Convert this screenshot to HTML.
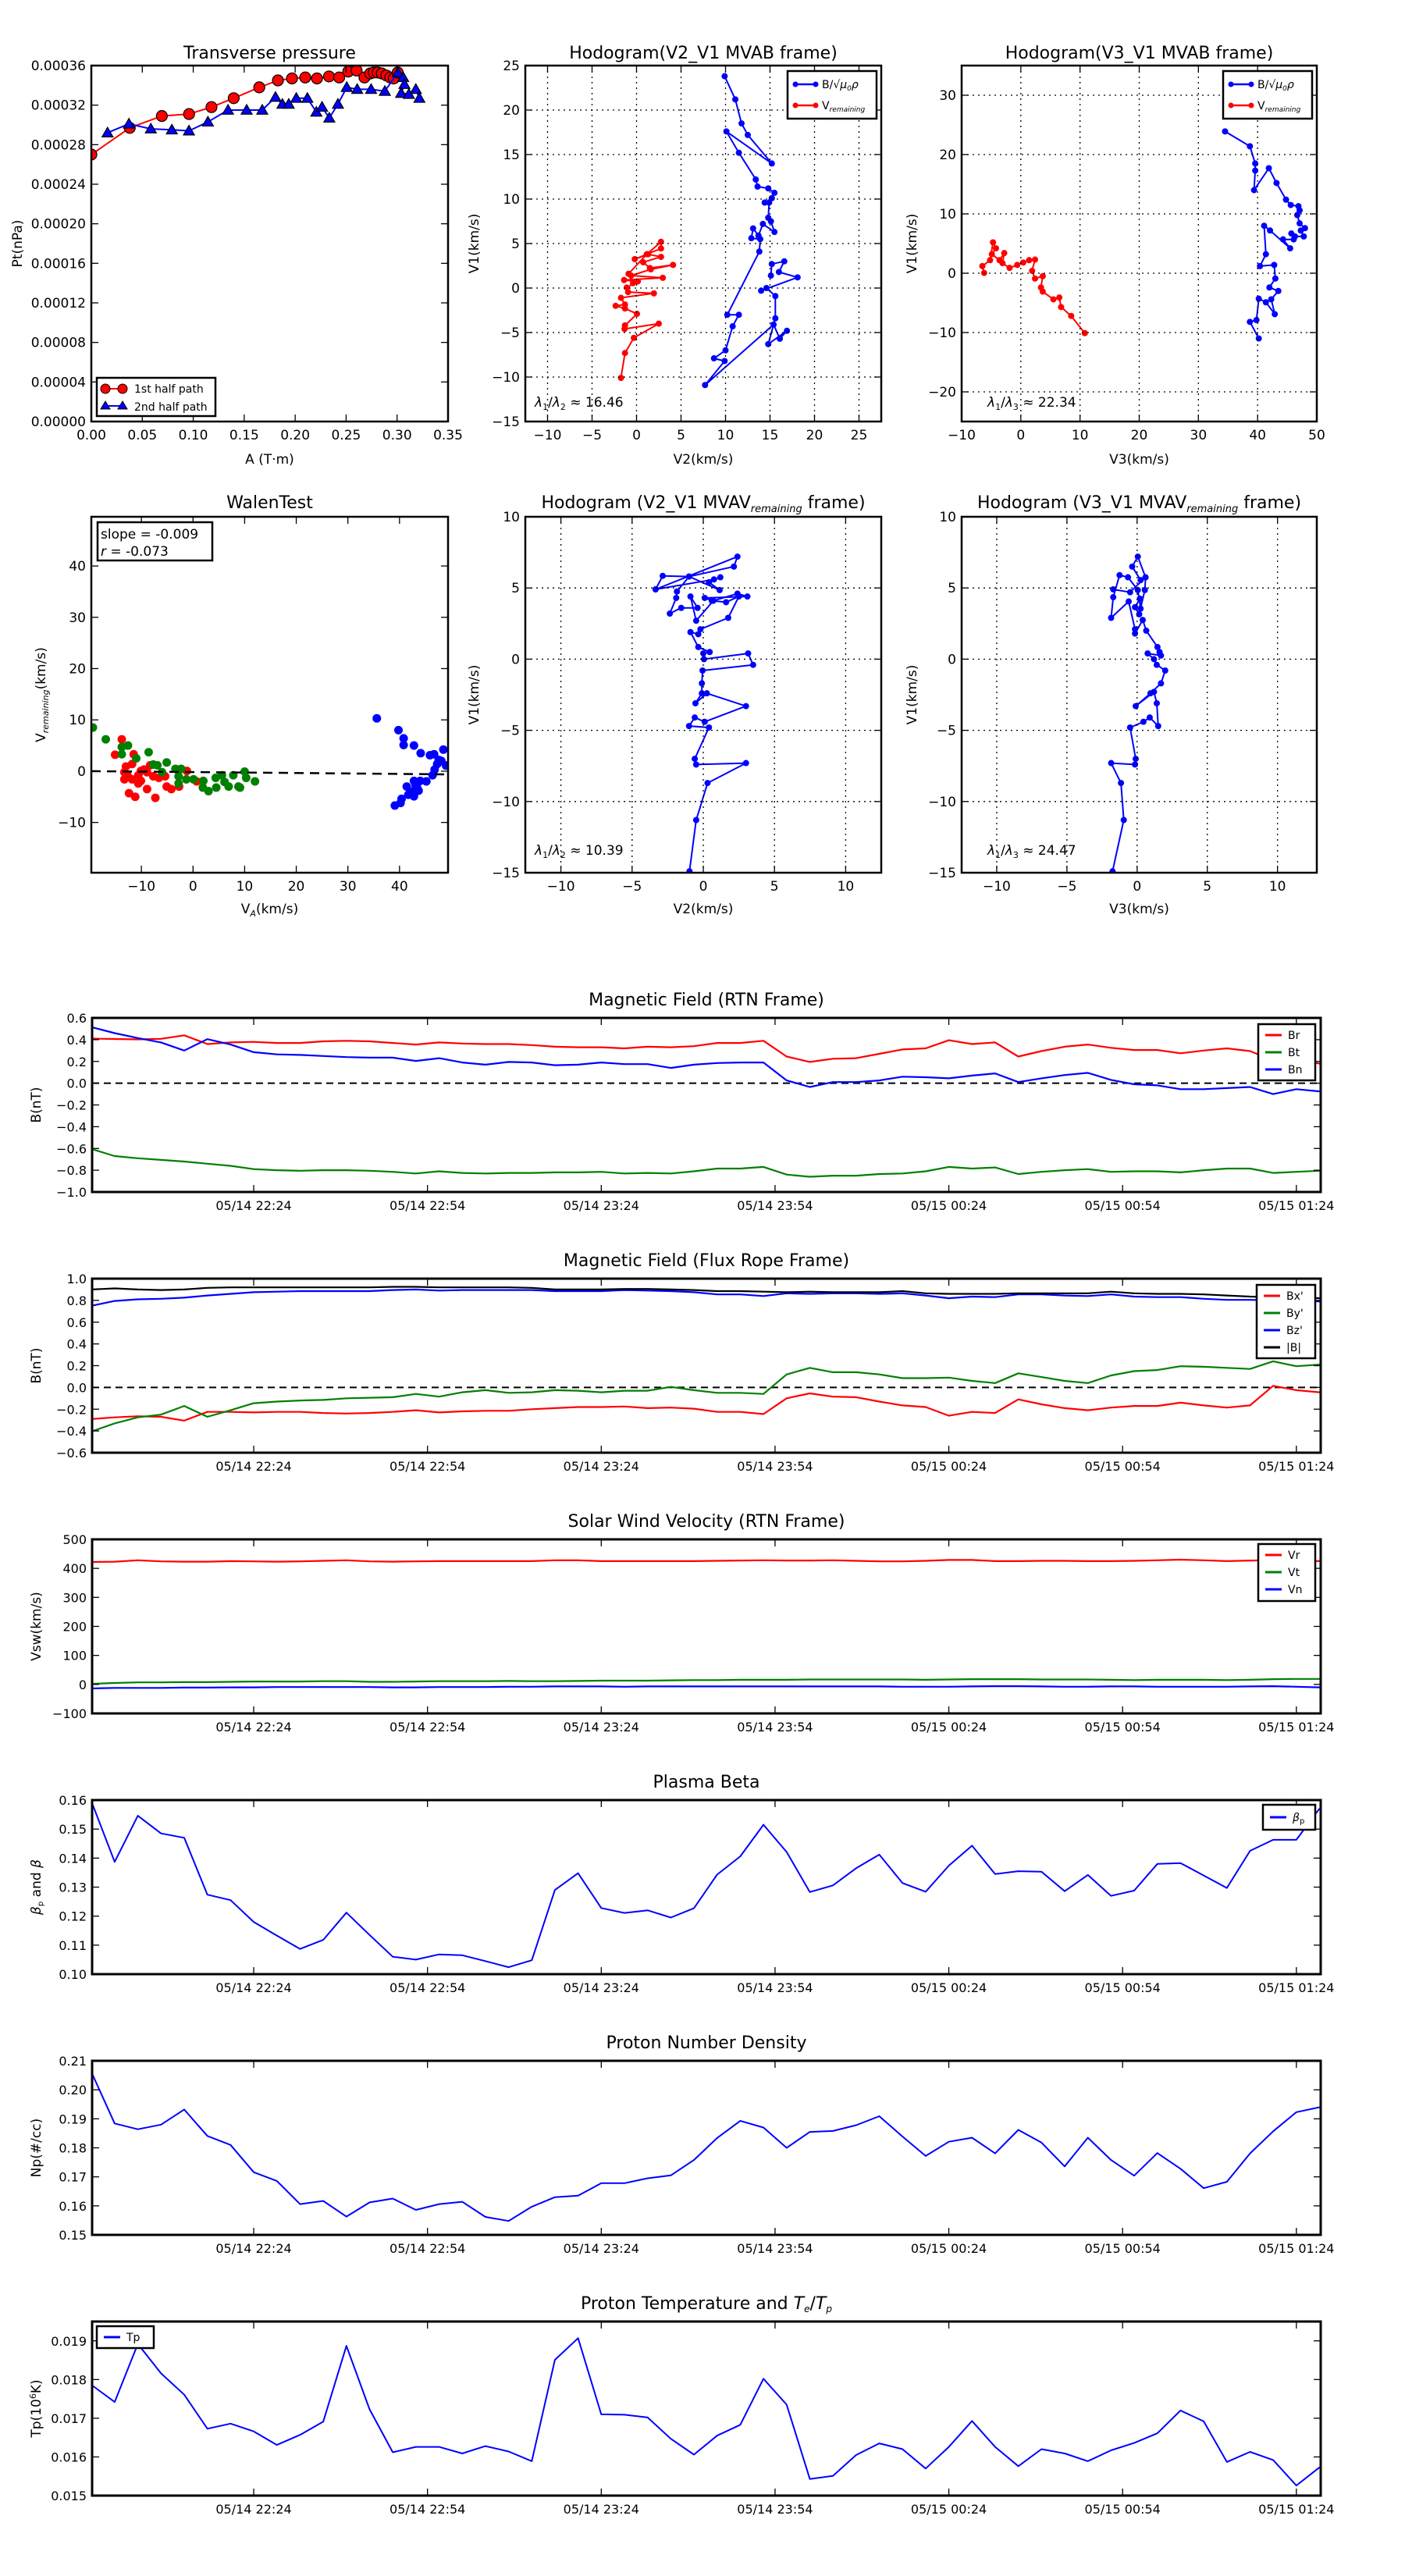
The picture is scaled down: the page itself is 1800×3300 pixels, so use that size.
<!DOCTYPE html>
<html><head><meta charset="utf-8">
<style>body{margin:0;background:#fff}svg{display:block}text{font-family:"DejaVu Sans","Liberation Sans",sans-serif}</style>
</head><body>
<svg id="fig" xmlns="http://www.w3.org/2000/svg" width="1800" height="3300" viewBox="0 0 1800 3300"><rect x="0" y="0" width="1800" height="3300" fill="#fff"/><defs id="defs"></defs></svg>
<script>
// ---------- Transverse pressure ----------
const ptA1=[0,.0377,.0692,.0959,.1179,.1397,.1648,.1831,.1969,.2099,.2214,.2332,.2432,.2521,.2603,.268,.2736,.2771,.2809,.285,.2894,.2933,.2968,.3006];
const ptP1=[.000270,.000297,.000309,.000311,.000318,.000327,.000338,.000345,.000347,.000348,.000347,.000349,.000348,.000354,.000355,.000348,.000352,.000353,.000353,.000352,.00035,.000348,.000347,.000353];
const ptA2=[.0159,.0369,.0584,.079,.0958,.1144,.1341,.1524,.1677,.1807,.1875,.1937,.2011,.212,.2208,.2264,.2335,.242,.2506,.2609,.2745,.288,.3007,.306,.3072,.304,.3116,.3184,.3219];
const ptP2=[.000292,.000301,.000296,.000295,.000294,.000303,.000315,.000315,.000315,.000328,.000321,.000321,.000327,.000327,.000313,.000318,.000307,.000321,.000338,.000336,.000336,.000334,.000353,.000348,.000341,.000332,.000331,.000336,.000327];
// ---------- Hodogram V2_V1 MVAB ----------
const h1BV2=[9.9,11.1,11.8,12.5,15.2,10.1,11.5,13.4,13.6,14.8,15.5,15.2,14.4,14.9,14.8,15.1,15.5,14.2,13.7,13.1,12.9,13.9,13.8,10.2,11.5,10.8,10.0,8.7,9.9,7.7,15.4,16.1,16.9,14.8,15.6,15.6,14.6,14.0,18.1,16.0,16.6,15.2,15.1];
const h1BV1=[23.8,21.2,18.5,17.2,14.0,17.6,15.2,12.2,11.4,11.2,10.7,10.1,9.6,9.6,7.9,7.5,6.3,7.2,5.9,6.7,5.6,5.5,4.1,-3.0,-3.0,-4.3,-7.0,-7.9,-8.2,-10.9,-4.1,-5.7,-4.8,-6.3,-3.4,-0.9,0.0,-0.3,1.2,1.8,3.0,2.7,1.4];
const h1VV2=[-1.75,-1.3,-0.3,2.5,-1.35,-1.3,0.05,-1.3,-2.35,-1.3,-1.75,1.95,-0.95,-1.1,0.15,-1.4,2.95,-0.6,1.6,4.1,1.5,0.75,2.75,1.3,-0.2,2.75,2.75,1.15,-0.9,-0.4];
const h1VV1=[-10.1,-7.3,-5.6,-4.0,-4.6,-4.2,-2.9,-2.3,-2.0,-1.85,-1.1,-0.6,-0.45,0.05,0.75,0.9,1.15,1.4,2.1,2.6,2.25,2.9,3.5,3.8,3.25,4.45,5.2,3.8,1.6,0.55];
// ---------- Hodogram V3_V1 MVAB ----------
const h2BV3=[34.5,38.7,39.6,39.6,39.4,41.9,43.2,44.8,45.6,46.9,47.1,46.7,47.1,48.0,47.3,47.8,46.3,45.7,46.1,44.3,45.5,42.1,41.1,41.4,40.4,42.8,43.0,42.0,43.5,42.3,42.9,41.4,40.2,39.8,38.7,40.2];
const h2BV1=[23.9,21.4,18.5,17.3,14.0,17.7,15.2,12.4,11.5,11.3,10.6,9.8,8.4,7.6,7.2,6.2,6.2,6.7,5.7,5.7,4.2,7.2,8.0,3.2,1.2,1.4,-0.9,-2.4,-3.0,-4.4,-6.9,-4.9,-4.3,-7.9,-8.2,-11.0];
const h2VV3=[-6.2,-6.5,-5.2,-4.7,-4.2,-4.9,-3.6,-2.8,-3.1,-1.9,-0.6,0.4,1.4,2.4,1.9,2.4,3.7,3.4,3.7,5.5,6.5,6.8,8.5,10.8];
const h2VV1=[0.05,1.2,2.2,5.2,4.2,3.2,2.2,3.4,1.7,0.9,1.4,1.8,2.2,2.3,0.4,-0.9,-0.5,-2.4,-3.1,-4.4,-4.1,-5.7,-7.2,-10.1];
// ---------- Walen test ----------
const wRx=[-13.8,-15.1,-13.3,-13.3,-12.4,-11.2,-7.3,-8.9,-10.1,-6.6,-5.1,-4.2,-2.7,-1.2,0.7,-8.3,-11.8,-10.6,-9.5,-13.0,-11.5,-8.9,-7.7,-5.4,-11.8,-10.6,-12.7,-10.1];
const wRy=[6.2,3.2,-0.2,-1.6,-4.3,-5.0,-5.2,-3.5,-1.9,-1.3,-3.0,-3.5,-3.0,0.05,-2.0,1.15,1.4,-0.8,0.3,0.9,3.3,-0.2,-1.0,-1.0,-1.6,-2.4,-0.8,0.05];
const wGx=[-19.4,-16.9,-13.8,-12.6,-13.8,-11.0,-8.6,-7.7,-6.9,-5.1,-6.0,-3.4,-2.3,-2.8,-2.8,-1.3,0.1,2.0,1.9,3.0,4.5,4.4,5.6,6.1,6.9,7.8,8.8,10.0,10.3,12.0,9.1];
const wGy=[8.5,6.2,4.7,5.0,3.3,2.5,3.7,1.3,1.15,1.7,-0.2,0.45,0.45,-1.0,-2.4,-1.6,-1.6,-1.9,-3.2,-3.9,-3.2,-1.3,-0.8,-2.1,-3.0,-0.8,-3.0,-0.1,-1.3,-2.0,-3.2];
const wBx=[35.6,39.8,40.8,40.8,42.8,44.1,45.9,46.7,48.5,47.6,46.8,46.4,45.2,44.0,42.8,41.4,43.1,43.7,42.3,41.7,40.4,40.2,39.1,42.8,43.4,48.1,49.0,47.3];
const wBy=[10.3,8.0,6.4,5.1,5.0,3.5,3.1,3.3,4.2,2.2,0.3,-0.8,-2.0,-1.9,-1.9,-3.0,-2.7,-3.8,-4.0,-4.6,-5.4,-6.2,-6.7,-4.9,-3.2,2.0,1.1,1.4];
const wSlope=-0.009, wIntercept=-0.18;
// ---------- Hodograms MVAV ----------
const h3V2=[-0.97,-0.5,0.3,3.0,-0.5,-0.6,0.4,-1.0,-0.6,0.1,3.0,0.25,-0.55,-0.1,-0.1,-0.05,3.5,3.15,0.05,0.0,0.45,-0.35,-0.9,-0.35,-0.2,1.75,2.5,1.6,0.6,0.1,3.1,2.4,0.7,-0.5,-0.9,-0.4,-1.55,-2.35,-1.9,-1.85,-1.0,1.15,0.4,1.2,0.75,-3.35,2.4,2.15,-1.0,-2.85,-3.35];
const h3V1=[-14.9,-11.3,-8.7,-7.3,-7.4,-7.0,-4.8,-4.7,-4.1,-4.4,-3.3,-2.4,-3.1,-2.4,-1.7,-0.8,-0.4,0.4,0.0,0.4,0.5,0.85,1.9,1.75,2.1,2.9,4.4,4.0,4.1,4.3,4.4,4.6,4.1,2.7,4.4,3.6,3.6,3.2,4.3,4.75,5.8,4.85,5.4,5.75,5.6,4.9,7.2,6.5,5.8,5.85,4.9];
const h4V3=[-1.75,-0.95,-1.15,-1.85,-0.15,-0.1,-0.5,0.45,0.9,1.5,1.4,1.2,-0.1,0.95,1.7,2.0,1.4,1.2,0.75,1.7,1.6,1.45,0.65,0.4,-0.15,-0.15,-0.6,-1.85,-1.7,-1.25,-0.65,0.05,0.25,0.2,-0.15,0.15,0.55,0.6,0.25,-0.35,0.05,0.6,-0.5,-1.7];
const h4V1=[-14.9,-11.3,-8.7,-7.3,-7.4,-7.0,-4.8,-4.4,-4.1,-4.7,-3.1,-2.3,-3.3,-2.4,-1.7,-0.8,-0.4,0.0,0.4,0.25,0.5,0.85,2.0,2.75,1.8,2.1,4.05,2.9,4.35,5.9,5.75,4.85,3.55,4.25,3.65,3.15,4.85,5.75,5.55,6.5,7.2,5.75,4.7,4.9];
// ---------- Time series ----------
const times=["21:56","22:00","22:04","22:08","22:12","22:16","22:20","22:24","22:28","22:32","22:36","22:40","22:44","22:48","22:52","22:56","23:00","23:04","23:08","23:12","23:16","23:20","23:24","23:28","23:32","23:36","23:40","23:44","23:48","23:52","23:56","00:00","00:04","00:08","00:12","00:16","00:20","00:24","00:28","00:32","00:36","00:40","00:44","00:48","00:52","00:56","01:00","01:04","01:08","01:12","01:16","01:20","01:24","01:28"];
const tickTimes=["22:24","22:54","23:24","23:54","00:24","00:54","01:24"];
const tickLabels=["05/14 22:24","05/14 22:54","05/14 23:24","05/14 23:54","05/15 00:24","05/15 00:54","05/15 01:24"];
const Br=[0.41,0.406,0.403,0.408,0.44,0.36,0.375,0.38,0.37,0.37,0.385,0.39,0.385,0.37,0.355,0.375,0.365,0.36,0.36,0.35,0.335,0.33,0.33,0.32,0.335,0.33,0.34,0.37,0.37,0.39,0.245,0.195,0.225,0.23,0.27,0.31,0.32,0.395,0.36,0.375,0.245,0.295,0.335,0.355,0.325,0.305,0.305,0.275,0.3,0.32,0.295,0.21,0.22,0.18];
const Bt=[-0.605,-0.67,-0.69,-0.705,-0.72,-0.74,-0.76,-0.79,-0.8,-0.805,-0.8,-0.8,-0.805,-0.815,-0.83,-0.81,-0.825,-0.83,-0.825,-0.825,-0.82,-0.82,-0.815,-0.83,-0.825,-0.83,-0.81,-0.785,-0.785,-0.77,-0.84,-0.86,-0.85,-0.85,-0.835,-0.83,-0.81,-0.77,-0.785,-0.775,-0.835,-0.815,-0.8,-0.79,-0.815,-0.81,-0.81,-0.82,-0.8,-0.785,-0.785,-0.825,-0.815,-0.805];
const Bn=[0.515,0.46,0.415,0.375,0.3,0.405,0.355,0.285,0.265,0.26,0.25,0.24,0.235,0.235,0.205,0.23,0.19,0.17,0.195,0.19,0.165,0.17,0.19,0.175,0.175,0.14,0.17,0.185,0.19,0.19,0.025,-0.035,0.01,0.01,0.025,0.06,0.055,0.045,0.07,0.09,0.01,0.045,0.075,0.095,0.03,-0.01,-0.02,-0.055,-0.055,-0.045,-0.035,-0.1,-0.055,-0.075];
const Bx=[-0.29,-0.275,-0.265,-0.27,-0.305,-0.225,-0.225,-0.23,-0.225,-0.225,-0.235,-0.24,-0.235,-0.225,-0.21,-0.23,-0.22,-0.215,-0.215,-0.2,-0.19,-0.18,-0.18,-0.175,-0.19,-0.185,-0.195,-0.225,-0.225,-0.245,-0.1,-0.055,-0.085,-0.09,-0.13,-0.165,-0.18,-0.26,-0.225,-0.235,-0.11,-0.155,-0.19,-0.21,-0.185,-0.17,-0.17,-0.14,-0.165,-0.185,-0.165,0.015,-0.025,-0.045];
const By=[-0.405,-0.33,-0.275,-0.25,-0.17,-0.27,-0.21,-0.145,-0.13,-0.12,-0.115,-0.1,-0.095,-0.09,-0.06,-0.085,-0.045,-0.025,-0.05,-0.045,-0.025,-0.03,-0.045,-0.03,-0.03,0.005,-0.025,-0.05,-0.05,-0.06,0.12,0.18,0.14,0.14,0.12,0.085,0.085,0.09,0.06,0.04,0.13,0.095,0.06,0.04,0.11,0.15,0.16,0.195,0.19,0.18,0.17,0.24,0.195,0.21];
const Bz=[0.75,0.795,0.81,0.815,0.825,0.845,0.86,0.875,0.88,0.885,0.885,0.885,0.885,0.895,0.9,0.89,0.895,0.895,0.895,0.895,0.885,0.885,0.885,0.895,0.89,0.885,0.875,0.855,0.855,0.84,0.865,0.86,0.865,0.865,0.86,0.865,0.845,0.82,0.835,0.83,0.855,0.855,0.845,0.84,0.855,0.835,0.83,0.83,0.815,0.805,0.805,0.8,0.805,0.79];
const Bmag=[0.9,0.91,0.9,0.895,0.9,0.915,0.92,0.92,0.92,0.92,0.92,0.92,0.92,0.925,0.925,0.92,0.92,0.92,0.92,0.915,0.9,0.9,0.9,0.905,0.905,0.9,0.895,0.885,0.885,0.88,0.875,0.88,0.875,0.875,0.875,0.885,0.865,0.86,0.86,0.86,0.865,0.865,0.865,0.865,0.88,0.865,0.86,0.86,0.855,0.845,0.835,0.83,0.83,0.82];
const Vr=[422,423,428,424,423,423,425,424,423,424,426,428,424,423,424,425,425,425,425,425,428,428,425,425,425,425,425,426,427,428,427,427,428,426,424,424,426,429,429,425,425,426,426,425,425,426,428,430,428,425,427,428,428,425];
const Vt=[2,5,7,7,8,8,9,10,10,10,11,11,9,9,10,11,11,11,12,11,11,12,13,13,13,14,15,15,16,16,16,17,17,17,17,17,16,17,18,18,18,17,17,17,16,15,16,16,16,15,16,18,19,19];
const Vn=[-14,-12,-12,-12,-11,-11,-10,-10,-9,-9,-9,-9,-9,-10,-10,-9,-9,-9,-8,-8,-7,-7,-7,-8,-7,-7,-7,-7,-7,-7,-7,-7,-7,-7,-7,-8,-8,-8,-7,-6,-6,-7,-8,-8,-7,-7,-8,-8,-8,-8,-7,-6,-8,-10];
const betaP=[.1594,.1387,.1546,.1485,.147,.1274,.1255,.118,.1133,.1087,.1118,.1212,.1135,.106,.105,.1068,.1065,.1045,.1024,.1048,.129,.1348,.1228,.1211,.122,.1195,.1227,.1343,.1406,.1515,.1421,.1283,.1306,.1365,.1412,.1314,.1284,.1374,.1443,.1345,.1355,.1353,.1286,.1342,.127,.1288,.138,.1383,.134,.1297,.1425,.1463,.1463,.1571];
const Np=[.206,.1884,.1864,.188,.1932,.1841,.181,.1716,.1686,.1606,.1617,.1563,.1612,.1625,.1586,.1606,.1614,.1562,.1548,.1597,.163,.1635,.1678,.1678,.1695,.1705,.1758,.1834,.1893,.187,.18,.1855,.1858,.1878,.1909,.1839,.1772,.1821,.1835,.1781,.1862,.1818,.1736,.1835,.1758,.1704,.1782,.1728,.1661,.1683,.1781,.1857,.1923,.194];
const Tp=[.01786,.01742,.01892,.01816,.01761,.01673,.01686,.01666,.01631,.01657,.01691,.01887,.01723,.01612,.01626,.01626,.01609,.01628,.01614,.01589,.01851,.01907,.0171,.01709,.01702,.01647,.01606,.01655,.01683,.01802,.01735,.01543,.01551,.01605,.01635,.0162,.0157,.01626,.01693,.01626,.01576,.0162,.01609,.01589,.01617,.01636,.01661,.0172,.01692,.01587,.01613,.01592,.01526,.01573];

const NS='http://www.w3.org/2000/svg';
const svg=document.getElementById('fig');
const defs=document.getElementById('defs');
let clipN=0;
function mk(tag,attrs,parent){const e=document.createElementNS(NS,tag);for(const k in attrs)e.setAttribute(k,attrs[k]);(parent||svg).appendChild(e);return e;}
function T(x,y,html,size,anchor,parent,rot){
  const e=mk('text',{x:x,y:y,'font-size':size,'text-anchor':anchor||'middle',fill:'#000'},parent);
  if(rot)e.setAttribute('transform','rotate(-90 '+x+' '+y+')');
  e.innerHTML=html;return e;}
function fmtNum(v,d){return v.toFixed(d).replace('-','\u2212');}
function panel(name,box,xlim,ylim){
  const g=mk('g',{});
  
  
  const sx=v=>box.l+(v-xlim[0])/(xlim[1]-xlim[0])*(box.r-box.l);
  const sy=v=>box.b-(v-ylim[0])/(ylim[1]-ylim[0])*(box.b-box.t);
  clipN++;
  const cp=mk('clipPath',{id:'c'+clipN},defs);
  mk('rect',{x:box.l,y:box.t,width:box.r-box.l,height:box.b-box.t},cp);
  const d=mk('g',{'clip-path':'url(#c'+clipN+')'},g);
  
  
  return {g,d,box,sx,sy};}
function frame(P,w){
  const r=mk('rect',{x:P.box.l,y:P.box.t,width:P.box.r-P.box.l,height:P.box.b-P.box.t,fill:'none',stroke:'#000','stroke-width':w||2.5},P.g);
  
  }
function xAxis(P,vals,labels,grid,size){
  const b=P.box;
  for(let i=0;i<vals.length;i++){
    const X=P.sx(vals[i]);
    if(grid&&X>b.l+2&&X<b.r-2){
      const gl=mk('line',{x1:X,y1:b.t,x2:X,y2:b.b,stroke:'#000','stroke-width':1.3,'stroke-dasharray':'2,5'},P.g);
      
      }
    const t1=mk('line',{x1:X,y1:b.b,x2:X,y2:b.b-9,stroke:'#000','stroke-width':1.3},P.g);
    
    
    const t2=mk('line',{x1:X,y1:b.t,x2:X,y2:b.t+9,stroke:'#000','stroke-width':1.3},P.g);
    
    
    const lb=T(X,b.b+23,labels[i],size||17,'middle',P.g);
    
    }}
function yAxis(P,vals,labels,grid,size){
  const b=P.box;
  for(let i=0;i<vals.length;i++){
    const Y=P.sy(vals[i]);
    if(grid&&Y>b.t+2&&Y<b.b-2){
      const gl=mk('line',{x1:b.l,y1:Y,x2:b.r,y2:Y,stroke:'#000','stroke-width':1.3,'stroke-dasharray':'2,5'},P.g);
      
      }
    const t1=mk('line',{x1:b.l,y1:Y,x2:b.l+9,y2:Y,stroke:'#000','stroke-width':1.3},P.g);
    
    
    const t2=mk('line',{x1:b.r,y1:Y,x2:b.r-9,y2:Y,stroke:'#000','stroke-width':1.3},P.g);
    
    
    const lb=T(b.l-7,Y+6,labels[i],size||17,'end',P.g);
    
    }}
function line(P,xs,ys,color,w,name,dash){
  const pts=xs.map((x,i)=>P.sx(x).toFixed(1)+','+P.sy(ys[i]).toFixed(1)).join(' ');
  const p=mk('polyline',{points:pts,fill:'none',stroke:color,'stroke-width':w,'stroke-linejoin':'round'},P.d);
  if(dash)p.setAttribute('stroke-dasharray',dash);
  
  }
function dots(P,xs,ys,color,r,name,stroke){
  for(let i=0;i<xs.length;i++){
    const c=mk('circle',{cx:P.sx(xs[i]),cy:P.sy(ys[i]),r:r,fill:color},P.d);
    if(stroke){c.setAttribute('stroke',stroke);c.setAttribute('stroke-width',1.2);}
    
    }}
function tris(P,xs,ys,color,s,name){
  for(let i=0;i<xs.length;i++){
    const X=P.sx(xs[i]),Y=P.sy(ys[i]);
    const t=mk('polygon',{points:`${X},${Y-s} ${X-s},${Y+s*0.75} ${X+s},${Y+s*0.75}`,fill:color,stroke:'#000','stroke-width':1.2},P.d);
    
    }}
function rng(a,b,s){const r=[];for(let v=a;v<=b+s*1e-6;v+=s)r.push(+v.toFixed(8));return r;}
function title(P,html,y){const t=T((P.box.l+P.box.r)/2,y,html,22,'middle',P.g);}
function xlabel(P,html,y){const t=T((P.box.l+P.box.r)/2,y,html,17,'middle',P.g);}
function ylabel(P,html,x){const t=T(x,(P.box.t+P.box.b)/2,html,17,'middle',P.g,true);}
function legendBox(P,x,y,w,h){const r=mk('rect',{x:x,y:y,width:w,height:h,fill:'#fff',stroke:'#000','stroke-width':2.5},P.g);}
function legendLine(P,x1,x2,y,color,w,name){const l=mk('line',{x1:x1,y1:y,x2:x2,y2:y,stroke:color,'stroke-width':w},P.g);}
function legendText(P,x,y,html,size,name){const t=T(x,y,html,size,'start',P.g);}

// ===== Panel 1: Transverse pressure =====
(function(){
  const P=panel('transverse-pressure-chart',{l:117,r:574,t:84,b:540},[0,0.35],[0,0.00036]);
  line(P,ptA1,ptP1,'#f00',2,'first-half-path-line');
  dots(P,ptA1,ptP1,'#f00',7,'first-half-marker','#000');
  line(P,ptA2,ptP2,'#00f',2,'second-half-path-line');
  tris(P,ptA2,ptP2,'#00f',7,'second-half-marker');
  frame(P,2.5);
  const xv=rng(0,0.35,0.05);xAxis(P,xv,xv.map(v=>v.toFixed(2)),false,17);
  const yv=rng(0,0.00036,0.00004);yAxis(P,yv,yv.map(v=>v.toFixed(5)),false,17);
  title(P,'Transverse pressure',75);xlabel(P,'A (T·m)',594);ylabel(P,'Pt(nPa)',28);
  legendBox(P,124,484,152,49);
  legendLine(P,135,157,498,'#f00',2,'legend-first-half');
  const a=mk('circle',{cx:135,cy:498,r:6,fill:'#f00',stroke:'#000'},P.g);
  const b=mk('circle',{cx:157,cy:498,r:6,fill:'#f00',stroke:'#000'},P.g);
  legendText(P,172,503,'1st half path',14,'legend-label');
  legendLine(P,135,157,520,'#00f',2,'legend-second-half');
  const c=mk('polygon',{points:'135,514 129,524 141,524',fill:'#00f',stroke:'#000'},P.g);
  const d=mk('polygon',{points:'157,514 151,524 163,524',fill:'#00f',stroke:'#000'},P.g);
  legendText(P,172,526,'2nd half path',14,'legend-label');
})();

function hodoLegend(P,x,y){
  legendBox(P,x,y,114,61);
  legendLine(P,x+10,x+36,y+17,'#00f',2.5,'legend-b-line');
  legendLine(P,x+10,x+36,y+44,'#f00',2.5,'legend-v-line');
  for(const [cx,cy,col] of [[x+10,y+17,'#00f'],[x+36,y+17,'#00f'],[x+10,y+44,'#f00'],[x+36,y+44,'#f00']]){
    const c=mk('circle',{cx:cx,cy:cy,r:3.5,fill:col},P.g);
    
    }
  legendText(P,x+44,y+22,'B/√<tspan font-style="italic">μ<tspan font-size="9" dy="3">0</tspan><tspan dy="-3">ρ</tspan></tspan>',14,'legend-label');
  legendText(P,x+44,y+49,'V<tspan font-size="9" font-style="italic" dy="3">remaining</tspan>',14,'legend-label');
}
function ratio(P,x,y,sub,val){const t=T(x,y,'<tspan font-style="italic">λ</tspan><tspan font-size="11" dy="4">1</tspan><tspan dy="-4">/</tspan><tspan font-style="italic">λ</tspan><tspan font-size="11" dy="4">'+sub+'</tspan><tspan dy="-4"> ≈ '+val+'</tspan>',17,'start',P.g);}

// ===== Panel 2 =====
(function(){
  const P=panel('hodogram-v2-v1-mvab',{l:673,r:1129,t:84,b:540},[-12.5,27.5],[-15,25]);
  const xv=rng(-10,25,5),yv=rng(-15,25,5);
  xAxis(P,xv,xv.map(v=>fmtNum(v,0)),true,17);yAxis(P,yv,yv.map(v=>fmtNum(v,0)),true,17);
  line(P,h1BV2,h1BV1,'#00f',2,'b-hodogram-line');dots(P,h1BV2,h1BV1,'#00f',4,'b-hodogram-point');
  line(P,h1VV2,h1VV1,'#f00',2,'v-hodogram-line');dots(P,h1VV2,h1VV1,'#f00',4,'v-hodogram-point');
  frame(P,2.5);
  title(P,'Hodogram(V2_V1 MVAB frame)',75);xlabel(P,'V2(km/s)',594);ylabel(P,'V1(km/s)',613);
  hodoLegend(P,1009,91);ratio(P,685,521,'2','16.46');
})();
// ===== Panel 3 =====
(function(){
  const P=panel('hodogram-v3-v1-mvab',{l:1232,r:1687,t:84,b:540},[-10,50],[-25,35]);
  const xv=rng(-10,50,10),yv=rng(-20,30,10);
  xAxis(P,xv,xv.map(v=>fmtNum(v,0)),true,17);yAxis(P,yv,yv.map(v=>fmtNum(v,0)),true,17);
  line(P,h2BV3,h2BV1,'#00f',2,'b-hodogram-line');dots(P,h2BV3,h2BV1,'#00f',4,'b-hodogram-point');
  line(P,h2VV3,h2VV1,'#f00',2,'v-hodogram-line');dots(P,h2VV3,h2VV1,'#f00',4,'v-hodogram-point');
  frame(P,2.5);
  title(P,'Hodogram(V3_V1 MVAB frame)',75);xlabel(P,'V3(km/s)',594);ylabel(P,'V1(km/s)',1174);
  hodoLegend(P,1567,91);ratio(P,1265,521,'3','22.34');
})();
// ===== Walen test =====
(function(){
  const xl=[-19.7,49.4];
  const P=panel('walen-test-chart',{l:117,r:574,t:662,b:1118},xl,[-19.8,49.6]);
  dots(P,wRx,wRy,'#f00',5.5,'walen-red-point');
  dots(P,wGx,wGy,'#008000',5.5,'walen-green-point');
  dots(P,wBx,wBy,'#00f',5.5,'walen-blue-point');
  line(P,xl,xl.map(v=>wSlope*v+wIntercept),'#000',2.5,'fit-line','12,8');
  frame(P,2.5);
  const xv=rng(-10,40,10),yv=rng(-10,40,10);
  xAxis(P,xv,xv.map(v=>fmtNum(v,0)),false,17);yAxis(P,yv,yv.map(v=>fmtNum(v,0)),false,17);
  title(P,'WalenTest',651);xlabel(P,'V<tspan font-size="11" font-style="italic" dy="4">A</tspan><tspan dy="-4">(km/s)</tspan>',1170);
  ylabel(P,'V<tspan font-size="11" font-style="italic" dy="4">remaining</tspan><tspan dy="-4">(km/s)</tspan>',58);
  legendBox(P,125,669,147,49);
  legendText(P,129,690,'slope = -0.009',17,'slope-text');
  legendText(P,129,712,'<tspan font-style="italic">r</tspan> = -0.073',17,'r-text');
})();
// ===== MVAV hodograms =====
(function(){
  const P=panel('hodogram-v2-v1-mvav',{l:673,r:1129,t:662,b:1118},[-12.5,12.5],[-15,10]);
  const xv=rng(-10,10,5),yv=rng(-15,10,5);
  xAxis(P,xv,xv.map(v=>fmtNum(v,0)),true,17);yAxis(P,yv,yv.map(v=>fmtNum(v,0)),true,17);
  line(P,h3V2,h3V1,'#00f',2,'b-hodogram-line');dots(P,h3V2,h3V1,'#00f',4,'b-hodogram-point');
  frame(P,2.5);
  title(P,'Hodogram (V2_V1 MVAV<tspan font-size="13" font-style="italic" dy="5">remaining</tspan><tspan dy="-5"> frame)</tspan>',651);
  xlabel(P,'V2(km/s)',1170);ylabel(P,'V1(km/s)',613);ratio(P,685,1095,'2','10.39');
})();
(function(){
  const P=panel('hodogram-v3-v1-mvav',{l:1232,r:1687,t:662,b:1118},[-12.5,12.8],[-15,10]);
  const xv=rng(-10,10,5),yv=rng(-15,10,5);
  xAxis(P,xv,xv.map(v=>fmtNum(v,0)),true,17);yAxis(P,yv,yv.map(v=>fmtNum(v,0)),true,17);
  line(P,h4V3,h4V1,'#00f',2,'b-hodogram-line');dots(P,h4V3,h4V1,'#00f',4,'b-hodogram-point');
  frame(P,2.5);
  title(P,'Hodogram (V3_V1 MVAV<tspan font-size="13" font-style="italic" dy="5">remaining</tspan><tspan dy="-5"> frame)</tspan>',651);
  xlabel(P,'V3(km/s)',1170);ylabel(P,'V1(km/s)',1174);ratio(P,1265,1095,'3','24.47');
})();

// ===== Time series =====
function tmin(s){const h=+s.slice(0,2),m=+s.slice(3);return ((h>=21?h:h+24)-22)*60+m-24;}
const tNum=times.map(tmin);
function ts(name,top,ylim,yv,dec,ttl,ylab,series,leg,zero){
  const P=panel(name,{l:118,r:1692,t:top,b:top+223},[-27.9,184.2],ylim);
  if(zero){line(P,[-27.9,184.2],[0,0],'#000',2,'zero-line','9,6');}
  for(const s of series)line(P,tNum,s.v,s.c,s.w||2.2,s.n);
  frame(P,3);
  xAxis(P,tickTimes.map(tmin),tickLabels,false,16);
  yAxis(P,yv,yv.map(v=>fmtNum(v,dec)),false,16);
  title(P,ttl,top-16);ylabel(P,ylab,52);
  if(leg){
    legendBox(P,leg.x,leg.y,leg.w,leg.h);
    series.forEach((s,i)=>{const yy=leg.y+leg.first+i*leg.step;
      legendLine(P,leg.x+9,leg.x+30,yy,s.c,3,'legend-'+s.n);
      legendText(P,leg.x+38,yy+5,s.lab,14,'legend-label');});
  }
  return P;}
ts('magnetic-field-rtn-chart',1304,[-1.0,0.6],rng(-1.0,0.6,0.2),1,'Magnetic Field (RTN Frame)','B(nT)',
  [{v:Br,c:'#f00',n:'br-line',lab:'Br'},{v:Bt,c:'#008000',n:'bt-line',lab:'Bt'},{v:Bn,c:'#00f',n:'bn-line',lab:'Bn'}],
  {x:1612,y:1312,w:73,h:72,first:14,step:22},true);
ts('magnetic-field-flux-rope-chart',1638,[-0.6,1.0],rng(-0.6,1.0,0.2),1,'Magnetic Field (Flux Rope Frame)','B(nT)',
  [{v:Bx,c:'#f00',n:'bx-line',lab:"Bx'"},{v:By,c:'#008000',n:'by-line',lab:"By'"},{v:Bz,c:'#00f',n:'bz-line',lab:"Bz'"},{v:Bmag,c:'#000',n:'bmag-line',lab:'|B|'}],
  {x:1610,y:1646,w:75,h:94,first:14,step:22},true);
ts('solar-wind-velocity-chart',1972,[-100,500],rng(-100,500,100),0,'Solar Wind Velocity (RTN Frame)','Vsw(km/s)',
  [{v:Vr,c:'#f00',n:'vr-line',lab:'Vr'},{v:Vt,c:'#008000',n:'vt-line',lab:'Vt'},{v:Vn,c:'#00f',n:'vn-line',lab:'Vn'}],
  {x:1612,y:1978,w:73,h:73,first:14,step:22},false);
ts('plasma-beta-chart',2306,[0.10,0.16],rng(0.10,0.16,0.01),2,'Plasma Beta','<tspan font-style="italic">β</tspan><tspan font-size="10" dy="3">p</tspan><tspan dy="-3"> and </tspan><tspan font-style="italic">β</tspan>',
  [{v:betaP,c:'#00f',n:'beta-p-line',w:2,lab:'<tspan font-style="italic">β</tspan><tspan font-size="10" dy="3">p</tspan>'}],
  {x:1618,y:2312,w:67,h:32,first:16,step:22},false);
ts('proton-density-chart',2640,[0.15,0.21],rng(0.15,0.21,0.01),2,'Proton Number Density','Np(#/cc)',
  [{v:Np,c:'#00f',n:'np-line',w:2}],null,false);
ts('proton-temperature-chart',2974,[0.015,0.0195],rng(0.015,0.019,0.001),3,'Proton Temperature and <tspan font-style="italic">T</tspan><tspan font-size="12" font-style="italic" dy="4">e</tspan><tspan dy="-4">/</tspan><tspan font-style="italic">T</tspan><tspan font-size="12" font-style="italic" dy="4">p</tspan>','Tp(10<tspan font-size="11" dy="-6">6</tspan><tspan dy="6">K)</tspan>',
  [{v:Tp,c:'#00f',n:'tp-line',w:2,lab:'Tp'}],
  {x:124,y:2980,w:73,h:28,first:14,step:22},false);
</script>
</body></html>
